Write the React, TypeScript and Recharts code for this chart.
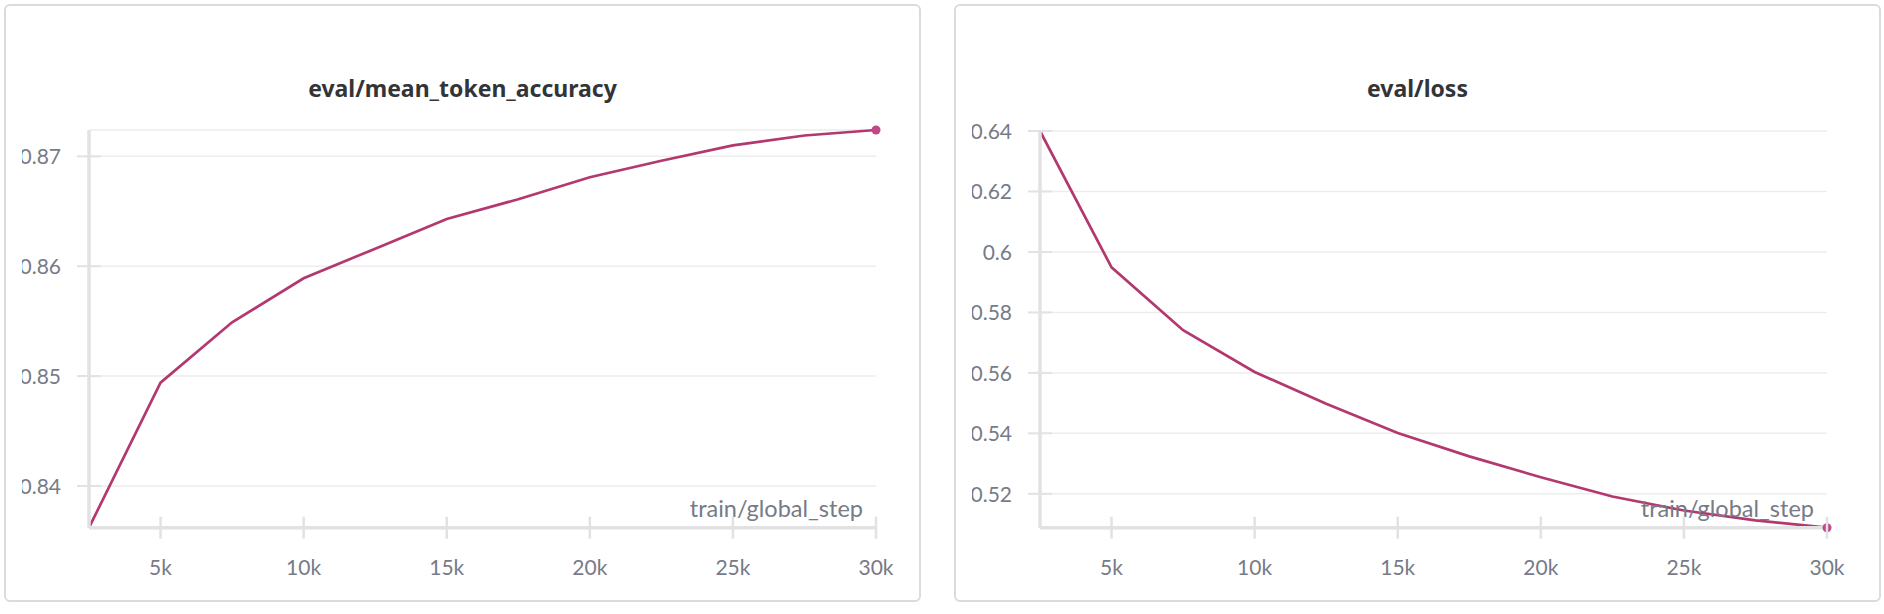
import React from 'react';
import { LineChart, Line, XAxis, YAxis, CartesianGrid, Label } from 'recharts';

const steps = [2500, 5000, 7500, 10000, 12500, 15000, 17500, 20000, 22500, 25000, 27500, 30000];
const meanTokenAccuracy = [0.8362, 0.8494, 0.8549, 0.8589, 0.8616, 0.8643, 0.8661, 0.8681, 0.8696, 0.8710, 0.8719, 0.8724];
const evalLoss = [0.6400, 0.5949, 0.5741, 0.5603, 0.5498, 0.5401, 0.5324, 0.5255, 0.5191, 0.5145, 0.5112, 0.5088];
const xTicks = [5000, 10000, 15000, 20000, 25000, 30000];
const accuracyTicks = [0.84, 0.85, 0.86, 0.87];
const lossTicks = [0.52, 0.54, 0.56, 0.58, 0.6, 0.62, 0.64];
const xAxisName = 'train/global_step';
const titles = ['eval/mean_token_accuracy', 'eval/loss'];

const FONT = 'Lato, "Noto Sans", sans-serif';
const TITLE_FONT = '"Noto Sans", Lato, sans-serif';
const LINE_COLOR = '#b3386f';
const DOT_COLOR = '#c04886';
const TICK_COLOR = '#767b87';
const AXIS_COLOR = '#e2e2e4';
const GRID_COLOR = '#ededee';

const accuracyData = steps.map((s, i) => ({ step: s, value: meanTokenAccuracy[i] }));
const lossData = steps.map((s, i) => ({ step: s, value: evalLoss[i] }));

const fmtX = (v: number) => `${v / 1000}k`;

const XTick = (props: any) => {
  const { x, y, payload } = props;
  return (
    <g>
      <line x1={x} x2={x} y1={y - 11} y2={y + 11} stroke={AXIS_COLOR} strokeWidth={2.5} />
      <text x={x} y={y + 47} textAnchor="middle" fill={TICK_COLOR} fontSize={21} fontFamily={FONT}>
        {fmtX(payload.value)}
      </text>
    </g>
  );
};

const YTick = (props: any) => {
  const { x, y, payload } = props;
  return (
    <g>
      <line x1={x - 12} x2={x + 12} y1={y} y2={y} stroke={AXIS_COLOR} strokeWidth={2} />
      <text x={x - 28} y={y + 8} textAnchor="end" fill={TICK_COLOR} fontSize={21} fontFamily={FONT}>
        {String(payload.value)}
      </text>
    </g>
  );
};

const EndDot = (props: any) => {
  const { cx, cy, index } = props;
  if (index !== steps.length - 1) return <g key={`d${index}`} />;
  return <circle key={`d${index}`} cx={cx} cy={cy} r={4.5} fill={DOT_COLOR} />;
};

const AxisName = (props: any) => {
  const vb = props.viewBox || {};
  return (
    <text x={vb.x + vb.width - 13} y={vb.y - 11} textAnchor="end" fill={TICK_COLOR} fontSize={23.5} fontFamily={FONT}>
      {xAxisName}
    </text>
  );
};

type PanelProps = {
  panelLeft: number;
  panelWidth: number;
  title: string;
  svgLeft: number;
  yAxisWidth: number;
  svgWidth: number;
  top: number;
  data: { step: number; value: number }[];
  yTicks: number[];
};

const Panel = (p: PanelProps) => (
  <>
    <div
      style={{
        position: 'absolute',
        left: p.panelLeft,
        top: 4,
        width: p.panelWidth,
        height: 594,
        border: '2px solid #dadbdd',
        borderRadius: 6,
        background: '#fff',
        boxSizing: 'content-box',
      }}
    />
    <div
      style={{
        position: 'absolute',
        left: p.panelLeft,
        width: p.panelWidth + 4,
        top: 72.5,
        textAlign: 'center',
        fontFamily: TITLE_FONT,
        fontWeight: 700,
        fontSize: 23,
        color: '#333438',
        lineHeight: '31px',
      }}
    >
      {p.title}
    </div>
    <div style={{ position: 'absolute', left: p.svgLeft, top: 0 }}>
      <LineChart
        width={p.svgWidth}
        height={614}
        data={p.data}
        margin={{ top: p.top, right: 20, bottom: 26.3, left: 0 }}
      >
        <CartesianGrid vertical={false} stroke={GRID_COLOR} strokeWidth={1.5} />
        <XAxis
          dataKey="step"
          type="number"
          domain={['dataMin', 'dataMax']}
          ticks={xTicks}
          tick={<XTick />}
          tickLine={false}
          tickSize={0}
          tickMargin={0}
          axisLine={{ stroke: AXIS_COLOR, strokeWidth: 3.5 }}
          height={60}
          interval={0}
        >
          <Label content={<AxisName />} />
        </XAxis>
        <YAxis
          type="number"
          domain={['dataMin', 'dataMax']}
          ticks={p.yTicks}
          tick={<YTick />}
          tickLine={false}
          tickSize={0}
          tickMargin={0}
          axisLine={{ stroke: AXIS_COLOR, strokeWidth: 3.5 }}
          width={p.yAxisWidth}
          interval={0}
        />
        <Line
          type="linear"
          dataKey="value"
          stroke={LINE_COLOR}
          strokeWidth={2.7}
          dot={<EndDot />}
          activeDot={false}
          isAnimationActive={false}
        />
      </LineChart>
    </div>
  </>
);

export default function App() {
  return (
    <div style={{ position: 'absolute', left: 0, top: 0, width: 1884, height: 614, background: '#fff', overflow: 'hidden' }}>
      <Panel
        panelLeft={4}
        panelWidth={913}
        title={titles[0]}
        svgLeft={22}
        yAxisWidth={67}
        svgWidth={874}
        top={130}
        data={accuracyData}
        yTicks={accuracyTicks}
      />
      <Panel
        panelLeft={954}
        panelWidth={923}
        title={titles[1]}
        svgLeft={972}
        yAxisWidth={68}
        svgWidth={875}
        top={131}
        data={lossData}
        yTicks={lossTicks}
      />
    </div>
  );
}
